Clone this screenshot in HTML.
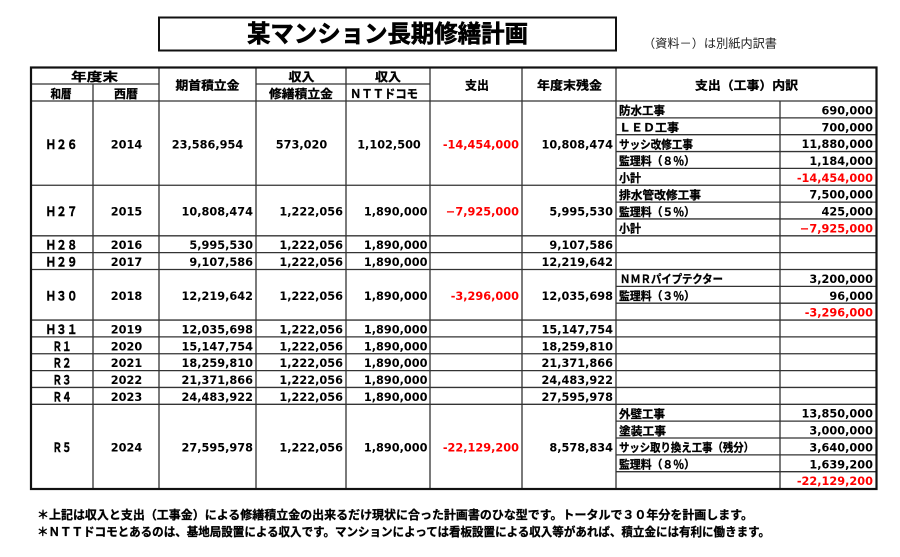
<!DOCTYPE html>
<html lang="ja">
<head>
<meta charset="utf-8">
<style>
html,body{margin:0;padding:0;background:#fff;}
svg{display:block;}
.j{font-family:"Liberation Sans","Noto Sans CJK JP",sans-serif;font-weight:700;font-size:11.5px;fill:#000;stroke:#000;stroke-width:0.3;}
.w{font-family:"Liberation Sans","Noto Sans CJK JP",sans-serif;font-weight:700;font-size:12.5px;fill:#000;stroke:#000;stroke-width:0.45;}
.h{font-family:"Liberation Sans","Noto Sans CJK JP",sans-serif;font-weight:700;font-size:12px;fill:#000;stroke:#000;stroke-width:0.3;}
.n{font-family:"DejaVu Sans","Liberation Sans",sans-serif;font-weight:700;font-size:11.3px;fill:#000;}
.r{fill:#f00;}
.j.r,.h.r{stroke:#f00;}
.e{text-anchor:end;}
.m{text-anchor:middle;}
.l{stroke:#333;stroke-width:1.3;fill:none;}
</style>
</head>
<body>
<svg width="900" height="557" viewBox="0 0 900 557" xmlns="http://www.w3.org/2000/svg">
<rect x="0" y="0" width="900" height="557" fill="#fff"/>

<!-- Title -->
<rect x="159" y="17.5" width="457" height="33" fill="none" stroke="#111" stroke-width="2"/>
<text x="387.5" y="42" text-anchor="middle" textLength="281" lengthAdjust="spacingAndGlyphs" style="font-family:'Liberation Sans','Noto Sans CJK JP',sans-serif;font-weight:700;font-size:24px;stroke:#000;stroke-width:0.6;">某マンション長期修繕計画</text>
<text x="643" y="47.5" textLength="134" lengthAdjust="spacingAndGlyphs" style="font-family:'Liberation Sans','Noto Sans CJK JP',sans-serif;font-size:12px;fill:#222;">（資料－）は別紙内訳書</text>

<!-- Table lines -->
<g class="l">
<line x1="30" y1="84" x2="159" y2="84"/>
<line x1="256" y1="84" x2="430" y2="84"/>
<line x1="30" y1="101" x2="877" y2="101"/>
<line x1="30" y1="185.25" x2="877" y2="185.25"/>
<line x1="30" y1="235.8" x2="877" y2="235.8"/>
<line x1="30" y1="252.65" x2="877" y2="252.65"/>
<line x1="30" y1="269.5" x2="877" y2="269.5"/>
<line x1="30" y1="320.05" x2="877" y2="320.05"/>
<line x1="30" y1="336.9" x2="877" y2="336.9"/>
<line x1="30" y1="353.75" x2="877" y2="353.75"/>
<line x1="30" y1="370.6" x2="877" y2="370.6"/>
<line x1="30" y1="387.45" x2="877" y2="387.45"/>
<line x1="30" y1="404.3" x2="877" y2="404.3"/>
<line x1="616" y1="117.85" x2="877" y2="117.85"/>
<line x1="616" y1="134.7" x2="877" y2="134.7"/>
<line x1="616" y1="151.55" x2="877" y2="151.55"/>
<line x1="616" y1="168.4" x2="877" y2="168.4"/>
<line x1="616" y1="202.1" x2="877" y2="202.1"/>
<line x1="616" y1="218.95" x2="877" y2="218.95"/>
<line x1="616" y1="286.35" x2="877" y2="286.35"/>
<line x1="616" y1="303.2" x2="877" y2="303.2"/>
<line x1="616" y1="421.15" x2="877" y2="421.15"/>
<line x1="616" y1="438" x2="877" y2="438"/>
<line x1="616" y1="454.85" x2="877" y2="454.85"/>
<line x1="616" y1="471.7" x2="877" y2="471.7"/>
<line x1="93" y1="84" x2="93" y2="489"/>
<line x1="159" y1="67" x2="159" y2="489"/>
<line x1="256" y1="67" x2="256" y2="489"/>
<line x1="346" y1="67" x2="346" y2="489"/>
<line x1="430" y1="67" x2="430" y2="489"/>
<line x1="522" y1="67" x2="522" y2="489"/>
<line x1="616" y1="67" x2="616" y2="489"/>
<line x1="780" y1="101" x2="780" y2="489"/>
</g>
<rect x="31" y="67.5" width="845.5" height="421.5" fill="none" stroke="#111" stroke-width="2.2"/>

<!-- Header text -->
<text class="h m" x="94.5" y="81" textLength="47" lengthAdjust="spacingAndGlyphs">年度末</text>
<text class="h m" x="61" y="98" textLength="21" lengthAdjust="spacingAndGlyphs">和暦</text>
<text class="h m" x="126" y="98" textLength="24" lengthAdjust="spacingAndGlyphs">西暦</text>
<text class="h m" x="207.5" y="89.5" textLength="64" lengthAdjust="spacingAndGlyphs">期首積立金</text>
<text class="h m" x="301.5" y="81" textLength="26" lengthAdjust="spacingAndGlyphs">収入</text>
<text class="h m" x="301" y="98" textLength="64" lengthAdjust="spacingAndGlyphs">修繕積立金</text>
<text class="h m" x="388" y="81" textLength="26" lengthAdjust="spacingAndGlyphs">収入</text>
<text class="h" x="350" y="98" textLength="68" lengthAdjust="spacingAndGlyphs">ＮＴＴドコモ</text>
<text class="h m" x="477" y="89.5" textLength="24" lengthAdjust="spacingAndGlyphs">支出</text>
<text class="h m" x="569.5" y="89.5" textLength="65" lengthAdjust="spacingAndGlyphs">年度末残金</text>
<text class="h m" x="746.5" y="89.5" textLength="103" lengthAdjust="spacingAndGlyphs">支出（工事）内訳</text>

<!-- H26 -->
<text class="w m" x="61.5" y="148.8" textLength="32" lengthAdjust="spacingAndGlyphs">Ｈ２６</text>
<text class="n m" x="126.5" y="148.3">2014</text>
<text class="n m" x="207.5" y="148.3">23,586,954</text>
<text class="n m" x="301.5" y="148.3">573,020</text>
<text class="n m" x="389" y="148.3">1,102,500</text>
<text class="n e r" x="519" y="148.3">-14,454,000</text>
<text class="n e" x="613" y="148.3">10,808,474</text>

<!-- H27 -->
<text class="w m" x="61.5" y="216" textLength="32" lengthAdjust="spacingAndGlyphs">Ｈ２７</text>
<text class="n m" x="126.5" y="215.5">2015</text>
<text class="n e" x="253" y="215.5">10,808,474</text>
<text class="n e" x="343" y="215.5">1,222,056</text>
<text class="n e" x="427.5" y="215.5">1,890,000</text>
<text class="n e r" x="519" y="215.5">−7,925,000</text>
<text class="n e" x="613" y="215.5">5,995,530</text>

<!-- H28 -->
<text class="w m" x="61.5" y="249.7" textLength="32" lengthAdjust="spacingAndGlyphs">Ｈ２８</text>
<text class="n m" x="126.5" y="249.2">2016</text>
<text class="n e" x="253" y="249.2">5,995,530</text>
<text class="n e" x="343" y="249.2">1,222,056</text>
<text class="n e" x="427.5" y="249.2">1,890,000</text>
<text class="n e" x="613" y="249.2">9,107,586</text>

<!-- H29 -->
<text class="w m" x="61.5" y="266.6" textLength="32" lengthAdjust="spacingAndGlyphs">Ｈ２９</text>
<text class="n m" x="126.5" y="266.1">2017</text>
<text class="n e" x="253" y="266.1">9,107,586</text>
<text class="n e" x="343" y="266.1">1,222,056</text>
<text class="n e" x="427.5" y="266.1">1,890,000</text>
<text class="n e" x="613" y="266.1">12,219,642</text>

<!-- H30 -->
<text class="w m" x="61.5" y="300.3" textLength="32" lengthAdjust="spacingAndGlyphs">Ｈ３０</text>
<text class="n m" x="126.5" y="299.8">2018</text>
<text class="n e" x="253" y="299.8">12,219,642</text>
<text class="n e" x="343" y="299.8">1,222,056</text>
<text class="n e" x="427.5" y="299.8">1,890,000</text>
<text class="n e r" x="519" y="299.8">-3,296,000</text>
<text class="n e" x="613" y="299.8">12,035,698</text>

<!-- H31 -->
<text class="w m" x="61.5" y="334" textLength="32" lengthAdjust="spacingAndGlyphs">Ｈ３１</text>
<text class="n m" x="126.5" y="333.5">2019</text>
<text class="n e" x="253" y="333.5">12,035,698</text>
<text class="n e" x="343" y="333.5">1,222,056</text>
<text class="n e" x="427.5" y="333.5">1,890,000</text>
<text class="n e" x="613" y="333.5">15,147,754</text>

<!-- R1 -->
<text class="w m" x="62" y="350.8" textLength="19" lengthAdjust="spacingAndGlyphs">Ｒ１</text>
<text class="n m" x="126.5" y="350.3">2020</text>
<text class="n e" x="253" y="350.3">15,147,754</text>
<text class="n e" x="343" y="350.3">1,222,056</text>
<text class="n e" x="427.5" y="350.3">1,890,000</text>
<text class="n e" x="613" y="350.3">18,259,810</text>

<!-- R2 -->
<text class="w m" x="62" y="367.7" textLength="19" lengthAdjust="spacingAndGlyphs">Ｒ２</text>
<text class="n m" x="126.5" y="367.2">2021</text>
<text class="n e" x="253" y="367.2">18,259,810</text>
<text class="n e" x="343" y="367.2">1,222,056</text>
<text class="n e" x="427.5" y="367.2">1,890,000</text>
<text class="n e" x="613" y="367.2">21,371,866</text>

<!-- R3 -->
<text class="w m" x="62" y="384.5" textLength="19" lengthAdjust="spacingAndGlyphs">Ｒ３</text>
<text class="n m" x="126.5" y="384">2022</text>
<text class="n e" x="253" y="384">21,371,866</text>
<text class="n e" x="343" y="384">1,222,056</text>
<text class="n e" x="427.5" y="384">1,890,000</text>
<text class="n e" x="613" y="384">24,483,922</text>

<!-- R4 -->
<text class="w m" x="62" y="401.4" textLength="19" lengthAdjust="spacingAndGlyphs">Ｒ４</text>
<text class="n m" x="126.5" y="400.9">2023</text>
<text class="n e" x="253" y="400.9">24,483,922</text>
<text class="n e" x="343" y="400.9">1,222,056</text>
<text class="n e" x="427.5" y="400.9">1,890,000</text>
<text class="n e" x="613" y="400.9">27,595,978</text>

<!-- R5 -->
<text class="w m" x="62" y="451.9" textLength="19" lengthAdjust="spacingAndGlyphs">Ｒ５</text>
<text class="n m" x="126.5" y="451.4">2024</text>
<text class="n e" x="253" y="451.4">27,595,978</text>
<text class="n e" x="343" y="451.4">1,222,056</text>
<text class="n e" x="427.5" y="451.4">1,890,000</text>
<text class="n e r" x="519" y="451.4">-22,129,200</text>
<text class="n e" x="613" y="451.4">8,578,834</text>

<!-- Detail texts -->
<text class="j" x="619" y="114.7" textLength="46" lengthAdjust="spacingAndGlyphs">防水工事</text>
<text class="j" x="619" y="131.5" textLength="60" lengthAdjust="spacingAndGlyphs">ＬＥＤ工事</text>
<text class="j" x="619" y="148.4" textLength="74" lengthAdjust="spacingAndGlyphs">サッシ改修工事</text>
<text class="j" x="619" y="165.2" textLength="76" lengthAdjust="spacingAndGlyphs">監理料（８％）</text>
<text class="j" x="619" y="182.1" textLength="22" lengthAdjust="spacingAndGlyphs">小計</text>
<text class="j" x="619" y="198.9" textLength="82" lengthAdjust="spacingAndGlyphs">排水管改修工事</text>
<text class="j" x="619" y="215.8" textLength="76" lengthAdjust="spacingAndGlyphs">監理料（５％）</text>
<text class="j" x="619" y="232.6" textLength="22" lengthAdjust="spacingAndGlyphs">小計</text>
<text class="j" x="620" y="283.2" textLength="103" lengthAdjust="spacingAndGlyphs">ＮＭＲパイプテクター</text>
<text class="j" x="619" y="300" textLength="76" lengthAdjust="spacingAndGlyphs">監理料（３％）</text>
<text class="j" x="619" y="418" textLength="46" lengthAdjust="spacingAndGlyphs">外壁工事</text>
<text class="j" x="619" y="434.8" textLength="47" lengthAdjust="spacingAndGlyphs">塗装工事</text>
<text class="j" x="619" y="451.7" textLength="135" lengthAdjust="spacingAndGlyphs">サッシ取り換え工事（残分）</text>
<text class="j" x="619" y="468.5" textLength="76" lengthAdjust="spacingAndGlyphs">監理料（８％）</text>

<!-- Detail numbers -->
<text class="n e" x="873" y="114.4">690,000</text>
<text class="n e" x="873" y="131.3">700,000</text>
<text class="n e" x="873" y="148.1">11,880,000</text>
<text class="n e" x="873" y="165">1,184,000</text>
<text class="n e r" x="873" y="181.8">-14,454,000</text>
<text class="n e" x="873" y="198.7">7,500,000</text>
<text class="n e" x="873" y="215.5">425,000</text>
<text class="n e r" x="873" y="232.4">−7,925,000</text>
<text class="n e" x="873" y="282.9">3,200,000</text>
<text class="n e" x="873" y="299.8">96,000</text>
<text class="n e r" x="873" y="316.6">-3,296,000</text>
<text class="n e" x="873" y="417.7">13,850,000</text>
<text class="n e" x="873" y="434.6">3,000,000</text>
<text class="n e" x="873" y="451.4">3,640,000</text>
<text class="n e" x="873" y="468.3">1,639,200</text>
<text class="n e r" x="873" y="485.1">-22,129,200</text>

<!-- Footnotes -->
<text class="h" x="37" y="519" textLength="716" lengthAdjust="spacingAndGlyphs">＊上記は収入と支出（工事金）による修繕積立金の出来るだけ現状に合った計画書のひな型です。トータルで３０年分を計画します。</text>
<text class="h" x="37" y="536" textLength="733" lengthAdjust="spacingAndGlyphs">＊ＮＴＴドコモとあるのは、基地局設置による収入です。マンションによっては看板設置による収入等があれば、積立金には有利に働きます。</text>
</svg>
</body>
</html>
